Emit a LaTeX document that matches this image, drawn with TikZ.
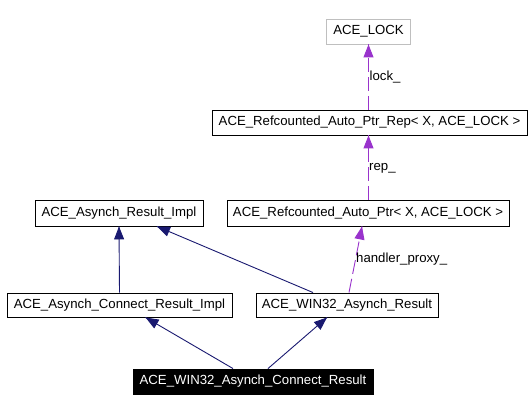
\documentclass[tikz,border=0pt]{standalone}
\usepackage{fontspec}
\setmainfont{Liberation Sans}
\usetikzlibrary{arrows.meta}
\usetikzlibrary{decorations.markings}
\definecolor{mnavy}{rgb}{0.1, 0.1, 0.44}
\definecolor{mpurple}{rgb}{0.6, 0.2, 0.8}
\definecolor{mgrey}{rgb}{0.75, 0.75, 0.75}
\tikzset{tip/.style = {decoration={markings,
                                   mark=at position 1 with {\arrow{Triangle[length=13pt, width=10pt]}}},
                       postaction={decorate}}}
\tikzset{box/.style = {draw, rectangle, inner sep = 0, minimum height = 25pt, line width = 0.9pt,
                       font = \fontsize{13.2}{15}\selectfont}}
\tikzset{lbl/.style = {inner sep = 0, anchor = west, font = \fontsize{13.2}{15}\selectfont}}
\tikzset{inh/.style = {mnavy, line width = 0.9pt, tip}}
\tikzset{dep/.style = {mpurple, line width = 0.9pt, dash pattern = on 14pt off 5pt, tip}}

\begin{document}
\begin{tikzpicture}[x = 1pt, y = -1pt]
      \useasboundingbox (0, 0) rectangle (532, 411);
      \node [box, draw = mgrey, minimum width = 84pt] (lock) at (368.5, 31.5) {ACE\_LOCK};
      \node [box, minimum width = 315pt] (rep) at (369.5, 122.5) {ACE\_Refcounted\_Auto\_Ptr\_Rep< X, ACE\_LOCK >};
      \node [box, minimum width = 282pt, minimum height = 26pt] (ptr) at (368, 213) {ACE\_Refcounted\_Auto\_Ptr< X, ACE\_LOCK >};
      \node [box, minimum width = 168pt, minimum height = 26pt] (ari) at (119, 213) {ACE\_Asynch\_Result\_Impl};
      \node [box, minimum width = 225pt, minimum height = 24pt] (cri) at (119.5, 305) {ACE\_Asynch\_Connect\_Result\_Impl};
      \node [box, minimum width = 182pt, minimum height = 24pt] (war) at (347, 305) {ACE\_WIN32\_Asynch\_Result};
      \node [box, fill, text = white, minimum width = 240pt] (wacr) at (253, 381.5) {ACE\_WIN32\_Asynch\_Connect\_Result};
      \draw [dep] (lock.south |- rep.north) -- (lock.south);
      \draw [dep] (lock.south |- ptr.north) -- (lock.south |- rep.south);
      \draw [dep] ([xshift = 2pt] war.north) -- ([xshift = -6pt] ptr.south);
      \draw [inh] (cri.north) -- (ari.south);
      \draw [inh] ([xshift = -34pt] war.north) -- ([xshift = 38pt] ari.south);
      \draw [inh] ([xshift = -20pt] wacr.north) -- ([xshift = 26pt] cri.south);
      \draw [inh] ([xshift = 15pt] wacr.north) -- ([xshift = -20pt] war.south);
      \node [lbl] (lockLbl) at (369.5, 77) {lock\_};
      \node [lbl] (repLbl) at (369, 168) {rep\_};
      \node [lbl] (proxyLbl) at (356, 259) {handler\_proxy\_};
    \end{tikzpicture}
\end{document}
